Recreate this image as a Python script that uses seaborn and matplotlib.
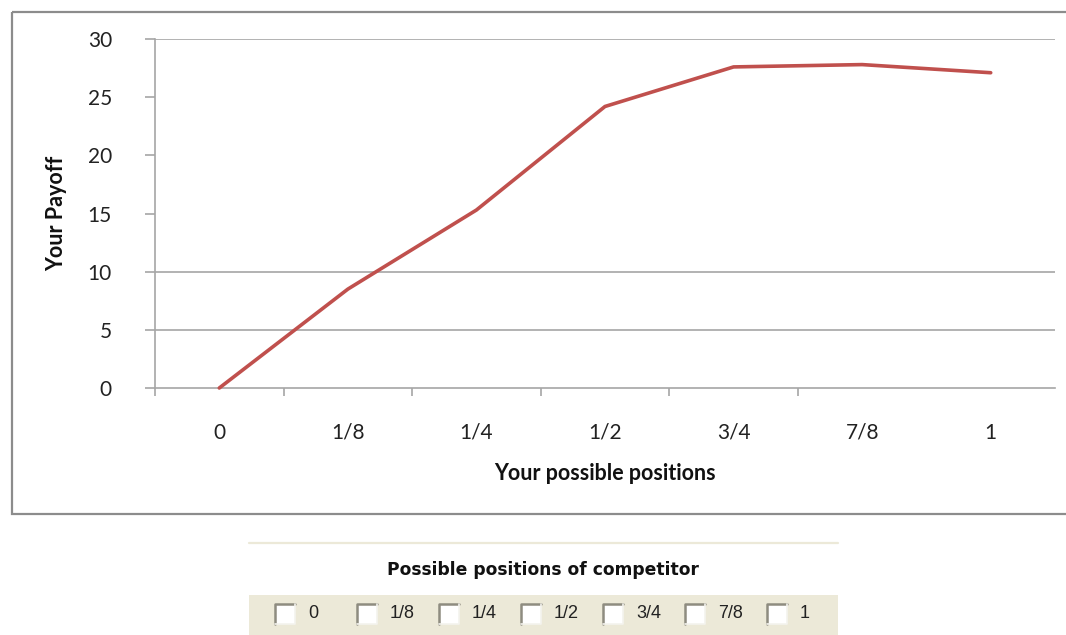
import pandas as pd
import matplotlib.pyplot as plt
import seaborn as sns
from matplotlib.patches import Rectangle

# values
positions = ["0", "1/8", "1/4", "1/2", "3/4", "7/8", "1"]
payoff = [0.0, 8.5, 15.3, 24.2, 27.6, 27.8, 27.1]
y_ticks = [0, 5, 10, 15, 20, 25, 30]
grid_levels = [5, 10, 30]
competitor_options = ["0", "1/8", "1/4", "1/2", "3/4", "7/8", "1"]

LINE_RED = "#C0504D"
GRID_GREY = "#A6A6A6"
XP_BEIGE = "#ECE9D8"


def draw_chart():
    sns.set_theme(style="white")
    plt.rcParams["font.family"] = ["Lato", "DejaVu Sans"]

    fig = plt.figure(figsize=(10.66, 6.35), dpi=100)

    # 1. Background overlay in pixel coordinates (frame + competitor panel)
    bg = fig.add_axes([0, 0, 1, 1])
    bg.set_xlim(0, 1066)
    bg.set_ylim(635, 0)
    bg.axis("off")
    bg.add_patch(Rectangle((12, 12), 1080, 502, fill=False, edgecolor="#8C8C8C",
                           linewidth=1.6, clip_on=False))
    bg.plot([249, 838], [543, 543], color=XP_BEIGE, linewidth=1.6)
    bg.text(543, 570, "Possible positions of competitor", ha="center", va="center",
            fontsize=12.3, fontweight="bold", family=["DejaVu Sans"], color="#111111")
    bg.add_patch(Rectangle((249, 595), 589, 45, facecolor=XP_BEIGE, edgecolor="none"))
    for i, opt in enumerate(competitor_options):
        x0 = 275 + 82 * i
        bg.add_patch(Rectangle((x0, 604), 20, 20, facecolor="white", edgecolor="none"))
        bg.plot([x0, x0, x0 + 20], [624, 604, 604], color="#8E8C80", linewidth=1.8)
        bg.plot([x0, x0 + 20, x0 + 20], [624, 624, 604], color="#F4F3EE", linewidth=1.2)
        bg.text(x0 + 33, 614, opt, ha="left", va="center", fontsize=13,
                family=["Liberation Sans"], color="#222222")

    # 2. Main line chart
    ax = fig.add_axes([155 / 1066, 1 - 388 / 635, 900 / 1066, 349 / 635])
    ax.set_facecolor("white")
    df = pd.DataFrame({"position": positions, "payoff": payoff})
    sns.lineplot(data=df, x="position", y="payoff", sort=False, ax=ax,
                 color=LINE_RED, linewidth=2.6, clip_on=False, zorder=3)

    ax.set_xlim(-0.5, len(positions) - 0.5)
    ax.set_ylim(0, 30)
    for lvl in grid_levels:
        ax.axhline(lvl, color=GRID_GREY, linewidth=1.2, zorder=1)

    for side in ["top", "right"]:
        ax.spines[side].set_visible(False)
    for side in ["left", "bottom"]:
        ax.spines[side].set_color(GRID_GREY)
        ax.spines[side].set_linewidth(1.2)

    ax.set_yticks(y_ticks)
    ax.set_xticks(range(len(positions)))
    ax.set_xticklabels(positions)
    ax.set_xticks([i - 0.5 for i in range(6)], minor=True)
    ax.tick_params(axis="x", which="major", length=0, pad=25, labelsize=15, labelcolor="#222222")
    ax.tick_params(axis="x", which="minor", bottom=True, length=6, width=1.2, color=GRID_GREY)
    ax.tick_params(axis="y", left=True, length=7, width=1.2, color=GRID_GREY,
                   pad=24, labelsize=15, labelcolor="#222222")

    ax.set_xlabel("Your possible positions", fontsize=15.5, fontweight="bold", color="#111111")
    ax.set_ylabel("Your Payoff", fontsize=15.5, fontweight="bold", color="#111111")
    ax.xaxis.set_label_coords(0.5, -0.215)
    ax.yaxis.set_label_coords(-0.098, 0.5)

    fig.savefig("out.png", dpi=100)


if __name__ == "__main__":
    draw_chart()
